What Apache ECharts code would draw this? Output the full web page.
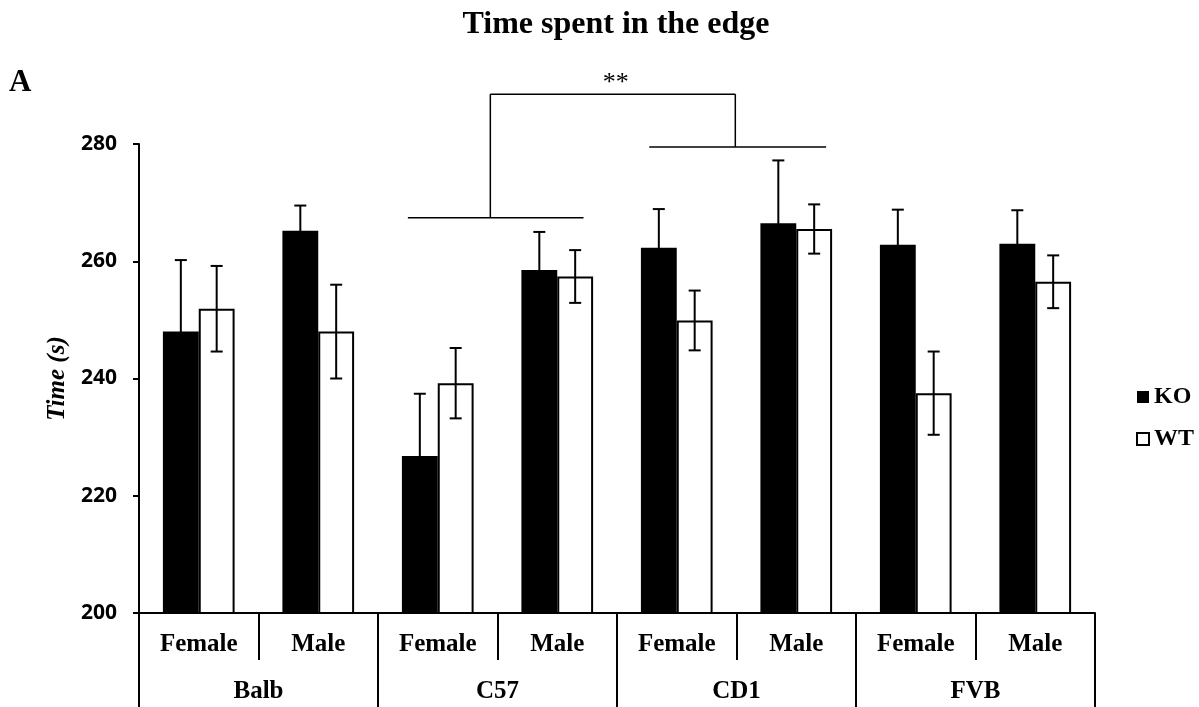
<!DOCTYPE html>
<html>
<head>
<meta charset="utf-8">
<script src="https://cdn.jsdelivr.net/npm/echarts@6/dist/echarts.min.js"></script>
<style>
  html, body { margin: 0; padding: 0; background: #fff; }
  #chart { width: 1199px; height: 707px; }
</style>
</head>
<body>
<div id="chart"></div>
<script>
// Sex sub-categories along the axis, grouped by mouse strain
const sexLabels = ['Female', 'Male', 'Female', 'Male', 'Female', 'Male', 'Female', 'Male'];
const strains = ['Balb', 'C57', 'CD1', 'FVB'];

// Time spent in the edge (s): mean and error per sub-category
const koMean = [248.0, 265.2, 226.8, 258.5, 262.3, 266.5, 262.8, 263.0];
const koErr  = [12.2, 4.3, 10.6, 6.5, 6.6, 10.7, 6.0, 5.7];
const wtMean = [251.9, 248.0, 239.2, 257.4, 249.9, 265.5, 237.5, 256.5];
const wtErr  = [7.3, 8.0, 6.0, 4.5, 5.1, 4.2, 7.1, 4.5];

// Y axis ticks
const yTicks = [200, 220, 240, 260, 280];

// Significance bracket (x in category-index units, y in seconds)
const bracketLegs = [[1.75, 3.22, 267.4], [3.77, 5.25, 279.5]]; // [from, to, level]
const bracketStems = [[2.44, 267.4], [4.49, 279.5]];            // [x, level]
const bracketTop = 288.5;
const sigMark = ['**', 3.49, 290.4];                             // [text, x, y]

const serifBold = { fontFamily: 'Liberation Serif', fontWeight: 'bold', color: '#000' };

function errorBars(sign) {
  return function (params, api) {
    const i = api.value(0), m = api.value(1), e = api.value(2);
    const band = api.size([1, 0])[0];
    const cx = api.coord([i, m])[0] + sign * band * 0.15;
    const top = api.coord([i, m + e])[1];
    const bot = api.coord([i, m - e])[1];
    const cap = 6;
    const st = { stroke: '#000', lineWidth: 2 };
    return {
      type: 'group',
      children: [
        { type: 'line', shape: { x1: cx, y1: top, x2: cx, y2: bot }, style: st },
        { type: 'line', shape: { x1: cx - cap, y1: top, x2: cx + cap, y2: top }, style: st },
        { type: 'line', shape: { x1: cx - cap, y1: bot, x2: cx + cap, y2: bot }, style: st }
      ]
    };
  };
}

function bracketRender(params, api) {
  const st = { stroke: '#000', lineWidth: 1.5 };
  const kids = [];
  bracketLegs.forEach(function (b) {
    const a = api.coord([b[0], b[2]]), c = api.coord([b[1], b[2]]);
    kids.push({ type: 'line', shape: { x1: a[0], y1: a[1], x2: c[0], y2: c[1] }, style: st });
  });
  bracketStems.forEach(function (s) {
    const a = api.coord([s[0], s[1]]), c = api.coord([s[0], bracketTop]);
    kids.push({ type: 'line', shape: { x1: a[0], y1: a[1], x2: c[0], y2: c[1] }, style: st });
  });
  const l = api.coord([bracketStems[0][0], bracketTop]);
  const r = api.coord([bracketStems[1][0], bracketTop]);
  kids.push({ type: 'line', shape: { x1: l[0], y1: l[1], x2: r[0], y2: r[1] }, style: st });
  const t = api.coord([sigMark[1], sigMark[2]]);
  kids.push({
    type: 'text',
    style: {
      text: sigMark[0], x: t[0], y: t[1], align: 'center', verticalAlign: 'middle',
      font: '26px "Liberation Serif"', fill: '#000'
    }
  });
  return { type: 'group', children: kids };
}

const chart = echarts.init(document.getElementById('chart'), null, { renderer: 'canvas' });

chart.setOption({
  animation: false,
  backgroundColor: '#fff',
  title: [
    {
      text: 'Time spent in the edge', left: 611, top: 4, textAlign: 'center',
      textStyle: Object.assign({ fontSize: 32 }, serifBold)
    },
    {
      text: 'A', left: 4, top: 62,
      textStyle: Object.assign({ fontSize: 31 }, serifBold)
    }
  ],
  legend: {
    orient: 'vertical', left: 1136, top: 385, itemGap: 18, padding: 0,
    itemWidth: 12, itemHeight: 12, icon: 'rect',
    textStyle: Object.assign({ fontSize: 24, lineHeight: 24 }, serifBold),
    data: [
      { name: 'KO', itemStyle: { color: '#000', borderWidth: 0 } },
      { name: 'WT', itemStyle: { color: '#fff', borderColor: '#000', borderWidth: 2 } }
    ]
  },
  grid: { left: 139, right: 104, top: 144, bottom: 94 },
  xAxis: [
    {
      type: 'category', data: sexLabels, position: 'bottom',
      axisLine: { show: true, onZero: false, lineStyle: { color: '#000', width: 2 } },
      axisTick: { show: true, interval: 0, length: 47, lineStyle: { color: '#000', width: 2 } },
      axisLabel: Object.assign({ interval: 0, fontSize: 25, margin: 19 }, serifBold),
      splitLine: { show: false }
    },
    {
      type: 'category', data: strains, position: 'bottom',
      axisLine: { show: false, onZero: false },
      axisTick: { show: true, interval: 0, length: 95, lineStyle: { color: '#000', width: 2 } },
      axisLabel: Object.assign({ interval: 0, fontSize: 25, margin: 66 }, serifBold),
      splitLine: { show: false }
    },
    {
      type: 'value', min: -0.5, max: 7.5, show: false,
      axisLine: { onZero: false }
    }
  ],
  yAxis: {
    type: 'value', min: yTicks[0], max: yTicks[yTicks.length - 1], interval: 20,
    name: 'Time (s)', nameLocation: 'middle', nameGap: 67, nameRotate: 90,
    nameTextStyle: {
      fontFamily: 'Liberation Serif', fontWeight: 'bold', fontStyle: 'italic',
      fontSize: 25, color: '#000'
    },
    axisLine: { show: true, onZero: false, lineStyle: { color: '#000', width: 2 } },
    axisTick: { show: true, length: 6, lineStyle: { color: '#000', width: 2 } },
    axisLabel: {
      fontFamily: 'Open Sans', fontWeight: 'bold', fontSize: 21, color: '#000', margin: 22
    },
    splitLine: { show: false }
  },
  series: [
    {
      name: 'KO', type: 'bar', xAxisIndex: 0, data: koMean,
      barGap: '0%', barCategoryGap: '40%',
      itemStyle: { color: '#000' }
    },
    {
      name: 'WT', type: 'bar', xAxisIndex: 0, data: wtMean,
      barGap: '0%', barCategoryGap: '40%',
      itemStyle: { color: '#fff', borderColor: '#000', borderWidth: 2 }
    },
    {
      type: 'custom', xAxisIndex: 0, z: 5,
      data: koMean.map(function (m, i) { return [i, m, koErr[i]]; }),
      encode: { x: 0, y: 1 },
      renderItem: errorBars(-1)
    },
    {
      type: 'custom', xAxisIndex: 0, z: 5,
      data: wtMean.map(function (m, i) { return [i, m, wtErr[i]]; }),
      encode: { x: 0, y: 1 },
      renderItem: errorBars(1)
    },
    {
      type: 'custom', xAxisIndex: 2, z: 5, clip: false,
      data: [[0, 250]],
      encode: { x: 0, y: 1 },
      renderItem: bracketRender
    }
  ]
});
</script>
</body>
</html>
